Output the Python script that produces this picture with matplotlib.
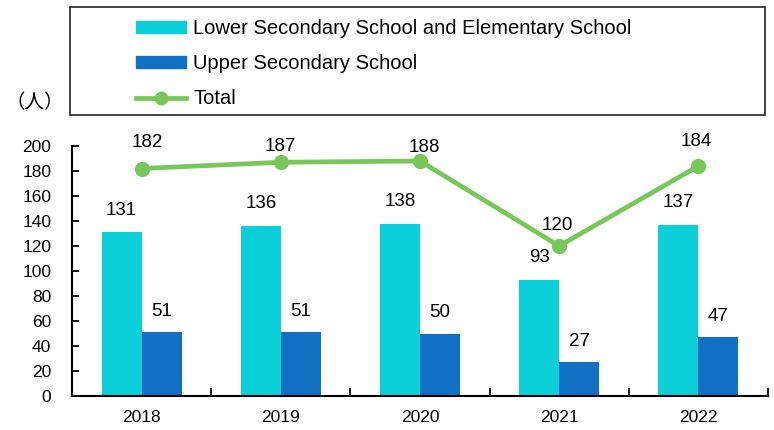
import numpy as np
import matplotlib
matplotlib.use("Agg")
import matplotlib.pyplot as plt
from matplotlib.patches import Rectangle
from matplotlib.lines import Line2D

years = ["2018", "2019", "2020", "2021", "2022"]
lower = [131, 136, 138, 93, 137]
upper = [51, 51, 50, 27, 47]
total = [182, 187, 188, 120, 184]
labels = ["Lower Secondary School and Elementary School", "Upper Secondary School", "Total"]

c_lower = "#0bd0d9"
c_upper = "#1170c4"
c_total = "#78c75a"

plt.rcParams["font.family"] = ["Liberation Sans", "DejaVu Sans"]
fs_tick = 12.5
fs_val = 13.5
fs_leg = 14.5

W, H = 774, 430
fig = plt.figure(figsize=(W / 100, H / 100), dpi=100)
ax = fig.add_axes([72 / W, 1 - 396 / H, 696 / W, 250 / H])

x = np.arange(len(years))
bw = 0.288
ax.bar(x - bw / 2, lower, bw, color=c_lower, zorder=2)
ax.bar(x + bw / 2, upper, bw, color=c_upper, zorder=2)
ax.plot(x, total, color=c_total, lw=3.4, marker="o", ms=10, zorder=3)

for xi, v in zip(x, lower):
    ax.annotate(str(v), (xi - bw / 2, v), xytext=(0, 22), textcoords="offset pixels",
                ha="center", va="center", fontsize=fs_val)
for xi, v in zip(x, upper):
    ax.annotate(str(v), (xi + bw / 2, v), xytext=(0, 21), textcoords="offset pixels",
                ha="center", va="center", fontsize=fs_val)
# excel squeezes the total labels under the top of the plot area
tot_dx = [6, 0, 4, -2, -2]
tot_dy = [26, 16, 13, 20, 24]
for xi, v, dx, dy in zip(x, total, tot_dx, tot_dy):
    ax.annotate(str(v), (xi, v), xytext=(dx, dy), textcoords="offset pixels",
                ha="center", va="center", fontsize=fs_val)

ax.set_xlim(-0.5, 4.5)
ax.set_ylim(0, 200)
ax.set_yticks(range(0, 201, 20))
ax.set_xticks(x)
ax.set_xticklabels(years)
ax.set_xticks(np.arange(0.5, 5, 1), minor=True)
ax.tick_params(axis="x", which="major", length=0, pad=10, labelsize=fs_tick)
ax.tick_params(axis="x", which="minor", direction="in", length=6, width=1.3)
ax.tick_params(axis="y", direction="in", length=5, width=1.3, pad=15, labelsize=fs_tick)
for s in ["top", "right"]:
    ax.spines[s].set_visible(False)
for s in ["left", "bottom"]:
    ax.spines[s].set_linewidth(1.5)

# legend frame and entries
fig.patches.append(Rectangle((70 / W, 1 - 115 / H), 695 / W, 108 / H, transform=fig.transFigure,
                             fill=False, edgecolor="#222222", lw=1.2))
handles = [Rectangle((0, 0), 1, 1, color=c_lower), Rectangle((0, 0), 1, 1, color=c_upper),
           Line2D([], [], color=c_total, lw=3.4, marker="o", ms=9)]
fig.legend(handles, labels, loc="upper left", bbox_to_anchor=(136 / W, 1 - 19 / H),
           frameon=False, fontsize=fs_leg, borderpad=0, borderaxespad=0, handlelength=2.5,
           handleheight=0.5, handletextpad=0.35, labelspacing=0.8)

fig.text(35 / W, 1 - 103 / H, "（人）", family=["Noto Sans CJK JP", "DejaVu Sans"],
         fontsize=14, va="center", ha="center")

fig.savefig("out.png", dpi=100)
